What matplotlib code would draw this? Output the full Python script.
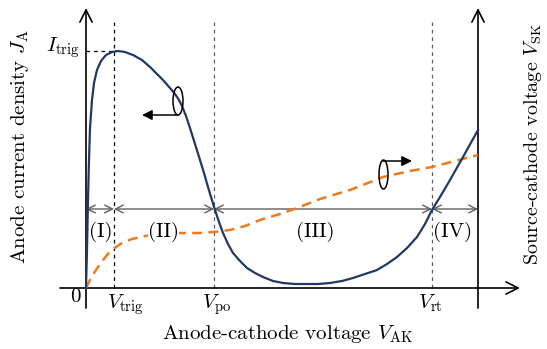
import matplotlib
matplotlib.use('agg')
from matplotlib import pyplot as plt
from matplotlib.patches import Ellipse

plt.rcParams['font.family'] = 'serif'
plt.rcParams['font.serif'] = ['cmr10', 'DejaVu Serif']
plt.rcParams['mathtext.fontset'] = 'cm'
plt.rcParams['axes.unicode_minus'] = False

# arbitrary units
v_anode = [0, 1, 2, 3, 4, 6, 8, 11, 15, 20, 26, 32, 39, 47, 56, 64, 71, 77, 84, 89,
           93, 96, 100, 104, 109, 114, 118, 122, 125, 129, 133, 137, 142, 147, 154, 161,
           169, 177, 187, 197, 209, 221, 232, 244, 256, 267, 279, 291, 301, 311, 321,
           331, 339, 346, 354, 364, 377, 392]
j_anode = [0, 38, 88, 128, 160, 188, 205, 218, 227, 233, 236, 237, 236, 233, 228, 221,
           214, 208, 200, 194, 188, 182, 172, 160, 144, 128, 115, 101, 91, 78, 66, 55, 44,
           35, 27, 20, 15, 11, 7, 5, 4, 4, 4, 5, 7, 10, 14, 18, 24, 31, 40, 51, 64,
           78, 91, 108, 131, 158]

v_sk_x = [0, 6, 14, 21, 27, 36, 46, 59, 74, 94, 114, 128, 144, 159, 174, 194, 211,
          234, 264, 297, 324, 346, 369, 392]
v_sk = [0, 12, 24, 33, 39, 45, 49, 52, 54, 55, 55, 56, 58, 62, 68, 74, 80, 89, 98,
        111, 117, 121, 127, 133]

V_TRIG, V_PO, V_RT, V_END = 28, 128, 346, 392
I_TRIG = 237
regions = ['(I)', '(II)', '(III)', '(IV)']
region_x = [15, 77, 229, 367]

BLUE = '#1f3864'
ORANGE = '#ee7a1c'
GRAY = '#606060'

fig = plt.figure(figsize=(5.47, 3.49), dpi=100)
ax = fig.add_axes([0, 0, 1, 1])
ax.set_xlim(-86, 461)
ax.set_ylim(-61, 288)
ax.axis('off')

ah = dict(arrowstyle='->', lw=1.2, color='black', mutation_scale=22, shrinkA=0, shrinkB=0)
ax.annotate('', xy=(0, 280), xytext=(0, -20), arrowprops=ah)
ax.annotate('', xy=(434, 0), xytext=(-26, 0), arrowprops=ah)
ax.annotate('', xy=(V_END, 280), xytext=(V_END, -20), arrowprops=ah)

# guide lines
ax.plot([V_TRIG, V_TRIG], [0, 266], ls=(0, (3, 3)), color='black', lw=0.9)
ax.plot([0, V_TRIG], [I_TRIG, I_TRIG], ls=(0, (3, 3)), color='black', lw=0.9)
for v in (V_PO, V_RT):
    ax.plot([v, v], [0, 266], ls=(0, (3, 3)), color=GRAY, lw=0.9)

# region arrows
bounds = [0, V_TRIG, V_PO, V_RT, V_END]
for a, b in zip(bounds[:-1], bounds[1:]):
    ax.annotate('', xy=(b, 79), xytext=(a, 79),
                arrowprops=dict(arrowstyle='<->', lw=1.0, color=GRAY,
                                mutation_scale=14, shrinkA=0, shrinkB=0))

ax.plot(v_sk_x, v_sk, color=ORANGE, lw=1.8, ls=(0, (4, 2.5)), zorder=3)
ax.plot(v_anode, j_anode, color=BLUE, lw=1.6, zorder=4)

fs = 15
for lab, x in zip(regions, region_x):
    ax.text(x, 56, lab, ha='center', va='center', fontsize=fs,
            bbox=dict(fc='white', ec='none', pad=0), zorder=5)

# rotation markers
ax.add_patch(Ellipse((92, 187), 10, 28, fill=False, lw=1.1, color='black', zorder=6))
ax.annotate('', xy=(56, 173), xytext=(92, 173),
            arrowprops=dict(arrowstyle='-|>', lw=1.1, color='black', mutation_scale=15,
                            shrinkA=0, shrinkB=0), zorder=6)
ax.add_patch(Ellipse((297.5, 113.5), 9, 29, fill=False, lw=1.1, color='black', zorder=6))
ax.annotate('', xy=(326, 127), xytext=(297, 127),
            arrowprops=dict(arrowstyle='-|>', lw=1.1, color='black', mutation_scale=15,
                            shrinkA=0, shrinkB=0), zorder=6)

ax.text(-6, 240, r'$I_\mathrm{trig}$', ha='right', va='center', fontsize=fs)
ax.text(-11, -9, '0', ha='center', va='center', fontsize=fs)
ax.text(39, -4, r'$V_\mathrm{trig}$', ha='center', va='top', fontsize=fs)
ax.text(131, -4, r'$V_\mathrm{po}$', ha='center', va='top', fontsize=fs)
ax.text(344, -4, r'$V_\mathrm{rt}$', ha='center', va='top', fontsize=fs)
ax.text(201, -46, r'Anode-cathode voltage $V_\mathrm{AK}$', ha='center', va='center', fontsize=fs)
ax.text(-66, 141, r'Anode current density $J_\mathrm{A}$', ha='center', va='center',
        rotation=90, fontsize=fs)
ax.text(447, 144, r'Source-cathode voltage $V_\mathrm{SK}$', ha='center', va='center',
        rotation=90, fontsize=14.5)

fig.savefig('out.png', dpi=100)
